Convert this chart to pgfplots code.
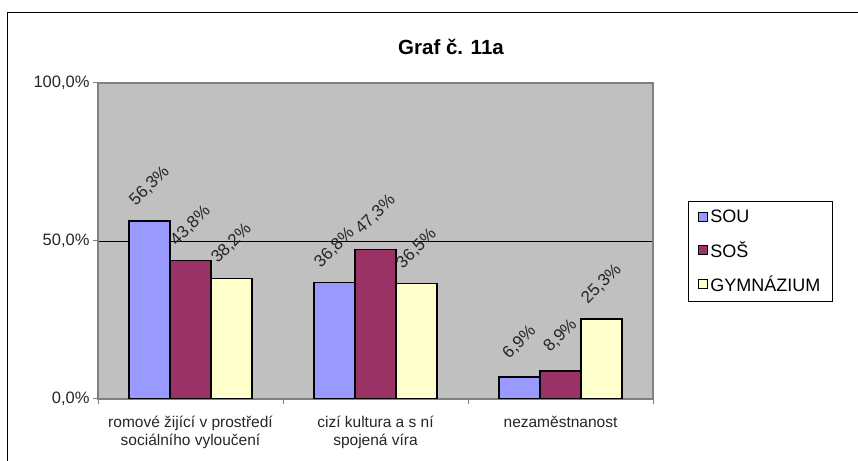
\documentclass[border=0pt]{standalone}
\usepackage{pgfplots}
\pgfplotsset{compat=1.18}
\usepackage{fontspec}
\setmainfont{Liberation Sans}
\definecolor{cSOU}{HTML}{9999FF}
\definecolor{cSOS}{HTML}{993366}
\definecolor{cGYM}{HTML}{FFFFCC}
\definecolor{plotbg}{HTML}{C0C0C0}
\definecolor{axgray}{HTML}{808080}
\begin{document}
\begin{tikzpicture}[x=1bp,y=1bp]
\path[use as bounding box] (0,0) rectangle (858,461);
\draw[line width=1bp] (7,0) -- (7,448) -- (858,448);
\node[font=\fontsize{20.5bp}{24bp}\selectfont\bfseries] at (451,414) {Graf č. 11a};
\begin{axis}[
  at={(98bp,62bp)}, anchor=south west,
  scale only axis, width=555bp, height=316bp,
  xmin=-0.5, xmax=2.5, ymin=0, ymax=100,
  axis background/.style={fill=plotbg},
  axis line style={draw=axgray, line width=1.2bp},
  ybar, bar width=0.2216,
  xtick={0,1,2},
  xticklabels={{romové žijící v prostředí\\sociálního vyloučení},{cizí kultura a s ní\\spojená víra},{nezaměstnanost}},
  major x tick style={draw=none},
  minor xtick={-0.5,0.5,1.5,2.5},
  ytick={0,50,100},
  yticklabels={{0,0\%},{50,0\%},{100,0\%}},
  tick align=outside, xtick pos=bottom, ytick pos=left,
  major tick length=5bp, minor tick length=5bp,
  tick style={draw=axgray, line width=1bp},
  ymajorgrids, grid style={black, line width=0.8bp},
  yticklabel style={font=\fontsize{16.5bp}{19bp}\selectfont, text=black!85},
  xticklabel style={font=\fontsize{15.5bp}{18bp}\selectfont, text=black!85, align=center, yshift=-9bp},
  nodes near coords={\pgfmathprintnumber[fixed, fixed zerofill, precision=1, use comma, assume math mode=true]{\pgfplotspointmeta}\%},
  nodes near coords align={center},
  every node near coord/.append style={font=\fontsize{17bp}{20bp}\selectfont, text=black!85, yshift=35bp, rotate=45, anchor=center},
  legend style={at={(rel axis cs:1.063,0.627)}, anchor=north west, draw=black, line width=1bp,
    font=\fontsize{18bp}{21bp}\selectfont, row sep=13bp, inner xsep=10bp, inner ysep=7bp},
  legend cell align=left,
  legend image code/.code={\draw[#1, draw=black, line width=1bp] (5bp,-4.5bp) rectangle (14bp,4.5bp);},
]
\addplot[fill=cSOU, draw=black, line width=1.5bp, bar shift=-0.2216] coordinates {(0,56.3) (1,36.8) (2,6.9)};
\addplot[fill=cSOS, draw=black, line width=1.5bp, bar shift=0] coordinates {(0,43.8) (1,47.3) (2,8.9)};
\addplot[fill=cGYM, draw=black, line width=1.5bp, bar shift=0.2216] coordinates {(0,38.2) (1,36.5) (2,25.3)};
\legend{SOU,SOŠ,GYMNÁZIUM}
\end{axis}
\end{tikzpicture}
\end{document}
